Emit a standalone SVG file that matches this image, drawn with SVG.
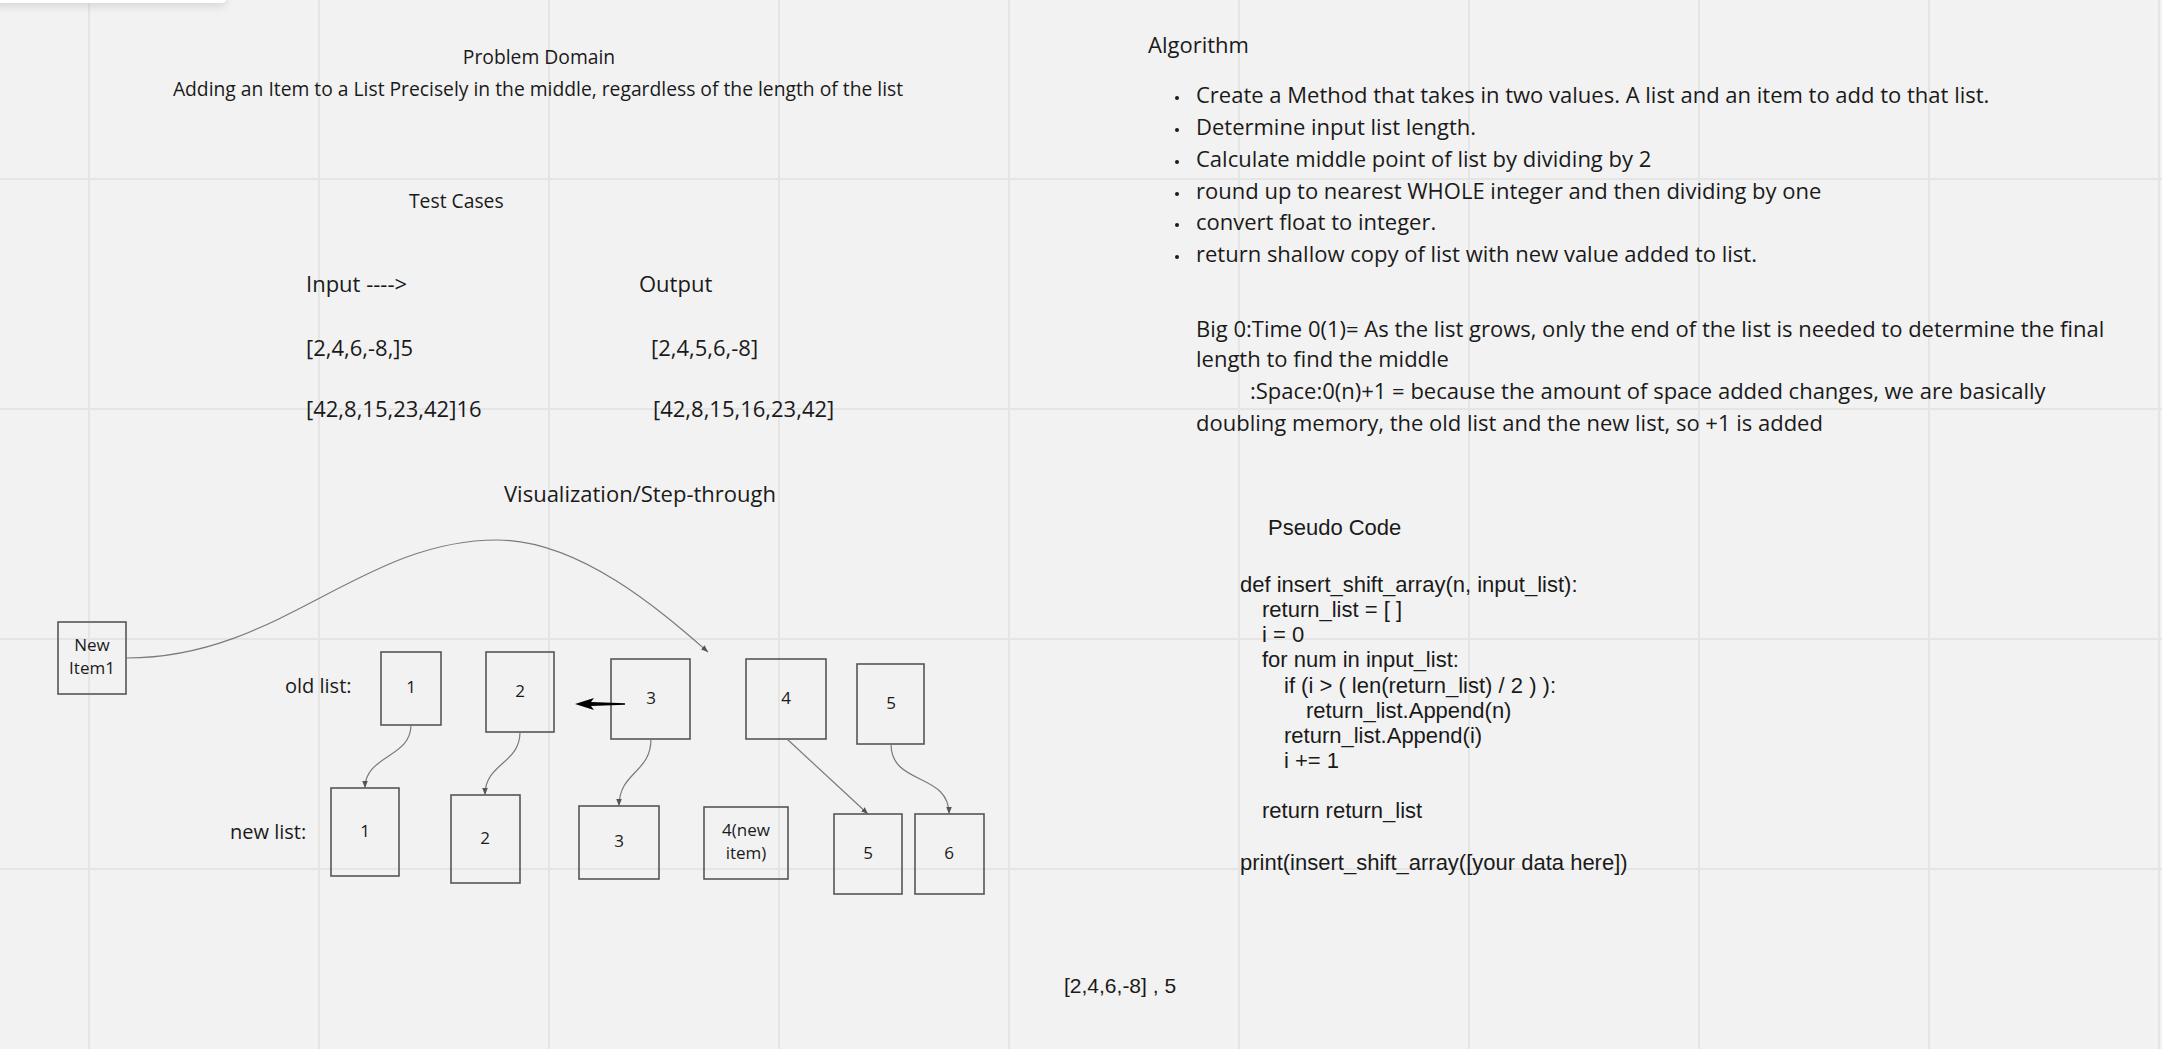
<svg xmlns="http://www.w3.org/2000/svg" width="2162" height="1049" viewBox="0 0 2162 1049">
<defs>
<style>
.os{font-family:"Open Sans","Liberation Sans",sans-serif;fill:#1a1a1a}
.ar{font-family:"Liberation Sans",Arial,sans-serif;fill:#1a1a1a}
.grid line{stroke:#e5e5e5;stroke-width:2}
.box{fill:none;stroke:#555;stroke-width:1.6}
.bt{font-family:"Open Sans","Liberation Sans",sans-serif;fill:#1a1a1a;font-size:17px;text-anchor:middle}
.con{fill:none;stroke:#7a7a7a;stroke-width:1.2}
</style>
<marker id="ah" viewBox="0 0 10 10" refX="10" refY="5" markerWidth="7" markerHeight="7" markerUnits="userSpaceOnUse" orient="auto">
<path d="M0,1 L10,5 L0,9 Z" fill="#555"/>
</marker>
<filter id="sh" x="-20%" y="-200%" width="140%" height="600%">
<feGaussianBlur stdDeviation="5"/>
</filter>
</defs>
<rect x="0" y="0" width="2162" height="1049" fill="#f2f2f2"/>
<g class="grid">
<line x1="89" y1="0" x2="89" y2="1049"/>
<line x1="319" y1="0" x2="319" y2="1049"/>
<line x1="549" y1="0" x2="549" y2="1049"/>
<line x1="779" y1="0" x2="779" y2="1049"/>
<line x1="1009" y1="0" x2="1009" y2="1049"/>
<line x1="1239" y1="0" x2="1239" y2="1049"/>
<line x1="1469" y1="0" x2="1469" y2="1049"/>
<line x1="1699" y1="0" x2="1699" y2="1049"/>
<line x1="1929" y1="0" x2="1929" y2="1049"/>
<line x1="2159" y1="0" x2="2159" y2="1049"/>
<line x1="0" y1="179" x2="2162" y2="179"/>
<line x1="0" y1="409" x2="2162" y2="409"/>
<line x1="0" y1="639" x2="2162" y2="639"/>
<line x1="0" y1="869" x2="2162" y2="869"/>
</g>
<rect x="-10" y="-10" width="236" height="16" rx="5" fill="#000" opacity="0.12" filter="url(#sh)"/>
<rect x="-10" y="-10" width="236" height="13" rx="4" fill="#ffffff"/>

<g id="problem-domain">
<text class="os" x="539" y="64" font-size="19.3" text-anchor="middle">Problem Domain</text>
<text class="os" x="538" y="96" font-size="19.3" text-anchor="middle">Adding an Item to a List Precisely in the middle, regardless of the length of the list</text>
</g>
<g id="test-cases">
<text class="os" x="409" y="208" font-size="19.3">Test Cases</text>
<text class="os" x="306" y="292" font-size="22">Input ----&gt;</text>
<text class="os" x="639" y="292" font-size="22">Output</text>
<text class="os" x="306" y="356" font-size="22">[2,4,6,-8,]5</text>
<text class="os" x="651" y="356" font-size="22">[2,4,5,6,-8]</text>
<text class="os" x="306" y="417" font-size="22">[42,8,15,23,42]16</text>
<text class="os" x="653" y="417" font-size="22">[42,8,15,16,23,42]</text>
</g>
<g id="algorithm">
<text class="os" x="1148" y="53" font-size="22">Algorithm</text>
<g fill="#1a1a1a">
<circle cx="1177" cy="98" r="2"/>
<circle cx="1177" cy="130" r="2"/>
<circle cx="1177" cy="162" r="2"/>
<circle cx="1177" cy="194" r="2"/>
<circle cx="1177" cy="225" r="2"/>
<circle cx="1177" cy="257" r="2"/>
</g>
<text class="os" x="1196" y="103" font-size="22">Create a Method that takes in two values. A list and an item to add to that list.</text>
<text class="os" x="1196" y="135" font-size="22">Determine input list length.</text>
<text class="os" x="1196" y="167" font-size="22">Calculate middle point of list by dividing by 2</text>
<text class="os" x="1196" y="199" font-size="22">round up to nearest WHOLE integer and then dividing by one</text>
<text class="os" x="1196" y="230" font-size="22">convert float to integer.</text>
<text class="os" x="1196" y="262" font-size="22">return shallow copy of list with new value added to list.</text>
<text class="os" x="1196" y="337" font-size="22">Big 0:Time 0(1)= As the list grows, only the end of the list is needed to determine the final</text>
<text class="os" x="1196" y="367" font-size="22">length to find the middle</text>
<text class="os" x="1250" y="399" font-size="22">:Space:0(n)+1 = because the amount of space added changes, we are basically</text>
<text class="os" x="1196" y="431" font-size="22">doubling memory, the old list and the new list, so +1 is added</text>
</g>
<g id="pseudo-code">
<text class="ar" x="1268" y="535" font-size="22">Pseudo Code</text>
<text class="ar" x="1240" y="592" font-size="22">def insert_shift_array(n, input_list):</text>
<text class="ar" x="1262" y="617" font-size="22">return_list = [ ]</text>
<text class="ar" x="1262" y="642" font-size="22">i = 0</text>
<text class="ar" x="1262" y="667" font-size="22">for num in input_list:</text>
<text class="ar" x="1284" y="693" font-size="22">if (i &gt; ( len(return_list) / 2 ) ):</text>
<text class="ar" x="1306" y="718" font-size="22">return_list.Append(n)</text>
<text class="ar" x="1284" y="743" font-size="22">return_list.Append(i)</text>
<text class="ar" x="1284" y="768" font-size="22">i += 1</text>
<text class="ar" x="1262" y="818" font-size="22">return return_list</text>
<text class="ar" x="1240" y="870" font-size="22">print(insert_shift_array([your data here])</text>
</g>
<g id="sample-input">
<text class="ar" x="1064" y="993" font-size="21">[2,4,6,-8] , 5</text>
</g>
<g id="visualization-title">
<text class="os" x="504" y="502" font-size="22">Visualization/Step-through</text>
</g>
<g id="old-list-label"><text class="os" x="285" y="693" font-size="20">old list:</text></g>
<g id="new-list-label"><text class="os" x="230" y="839" font-size="20">new list:</text></g>

<g id="new-item"><rect class="box" x="58" y="622" width="68" height="72"/><text class="bt" x="92" y="651" font-size="16">New</text><text class="bt" x="92" y="674" font-size="16">Item1</text></g>
<g id="old-1"><rect class="box" x="381" y="652" width="60" height="73"/><text class="bt" x="411" y="693">1</text></g>
<g id="old-2"><rect class="box" x="486" y="652" width="68" height="80"/><text class="bt" x="520" y="697">2</text></g>
<g id="old-3"><rect class="box" x="611" y="659" width="79" height="80"/><text class="bt" x="651" y="704">3</text></g>
<g id="old-4"><rect class="box" x="746" y="659" width="80" height="80"/><text class="bt" x="786" y="704" font-size="18">4</text></g>
<g id="old-5"><rect class="box" x="857" y="664" width="67" height="80"/><text class="bt" x="891" y="709">5</text></g>
<g id="new-1"><rect class="box" x="331" y="788" width="68" height="88"/><text class="bt" x="365" y="837">1</text></g>
<g id="new-2"><rect class="box" x="451" y="795" width="69" height="88"/><text class="bt" x="485" y="844">2</text></g>
<g id="new-3"><rect class="box" x="579" y="806" width="80" height="73"/><text class="bt" x="619" y="847">3</text></g>
<g id="new-4"><rect class="box" x="704" y="807" width="84" height="72"/><text class="bt" x="746" y="836">4(new</text><text class="bt" x="746" y="859">item)</text></g>
<g id="new-5"><rect class="box" x="834" y="814" width="68" height="80"/><text class="bt" x="868" y="859">5</text></g>
<g id="new-6"><rect class="box" x="915" y="814" width="69" height="80"/><text class="bt" x="949" y="859">6</text></g>

<g id="connectors">
<path class="con" d="M127,658 C280,658 360,540 497,540 C580,540 662,612 708,652" marker-end="url(#ah)"/>
<path class="con" d="M411,725 C411,758 365,755 365,788" marker-end="url(#ah)"/>
<path class="con" d="M520,732 C520,764 485,763 485,795" marker-end="url(#ah)"/>
<path class="con" d="M651,739 C651,773 619,772 619,806" marker-end="url(#ah)"/>
<path class="con" d="M787,739 L868,814" marker-end="url(#ah)"/>
<path class="con" d="M891,744 C891,786 949,772 949,814" marker-end="url(#ah)"/>
<path d="M575,704 L594,698 L591,702 L625,703.3 L625,704.7 L591,706 L594,710 Z" fill="#000"/>
</g>
</svg>
